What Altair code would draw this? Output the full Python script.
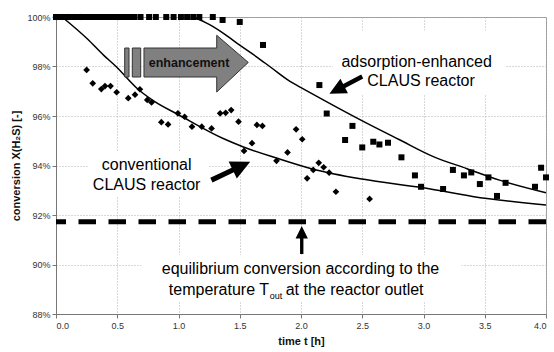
import altair as alt
import pandas as pd

# ---------------- data ----------------
# conventional CLAUS reactor (diamonds)
conv_t = [0.0, 0.05, 0.10, 0.15, 0.20, 0.25, 0.30, 0.37, 0.40, 0.445,
          0.495, 0.59, 0.645, 0.685, 0.745, 0.78, 0.86, 0.915, 0.995, 1.05,
          1.11, 1.19, 1.27, 1.34, 1.385, 1.43, 1.49, 1.535, 1.60, 1.64,
          1.685, 1.80, 1.89, 1.96, 2.01, 2.05, 2.10, 2.145, 2.185, 2.23,
          2.285, 2.56]
conv_v = [100, 100, 100, 100, 100, 97.86, 97.32, 97.09, 97.21, 97.21,
          96.96, 96.72, 96.86, 97.08, 96.65, 96.55, 95.75, 95.66, 96.11, 95.97,
          95.57, 95.57, 95.50, 96.11, 96.13, 96.24, 95.77, 94.59, 94.90, 95.64,
          95.60, 94.19, 94.53, 95.46, 95.06, 93.48, 93.82, 94.11, 93.93, 93.71,
          92.94, 92.65]

# adsorption-enhanced CLAUS reactor (squares)
ads_t = [0.0, 0.04, 0.08, 0.12, 0.16, 0.20, 0.24, 0.28, 0.32, 0.36,
         0.40, 0.44, 0.48, 0.52, 0.56, 0.60, 0.64, 0.69, 0.76, 0.815,
         0.90, 0.96, 1.02, 1.07, 1.12, 1.17, 1.28, 1.36, 1.50, 1.69,
         2.15, 2.21, 2.36, 2.42, 2.50, 2.59, 2.64, 2.71, 2.82, 2.93,
         2.98, 3.16, 3.24, 3.33, 3.39, 3.46, 3.53, 3.60, 3.67, 3.91,
         3.96, 4.00]
ads_v = [100, 100, 100, 100, 100, 100, 100, 100, 100, 100,
         100, 100, 100, 100, 100, 100, 100, 100, 100, 100,
         100, 100, 100, 100, 100, 100, 100, 99.88, 99.80, 98.87,
         97.25, 96.10, 95.03, 95.60, 94.73, 94.96, 94.85, 94.92, 94.33, 93.60,
         93.14, 93.05, 93.82, 93.60, 93.72, 93.25, 93.52, 92.77, 93.30, 93.14,
         93.91, 93.52]

# model curves
conv_curve_t = [0.05, 0.255, 0.39, 0.49, 0.665, 0.8, 1.0, 1.36, 1.53, 1.8, 2.1, 2.5, 3.0, 3.4, 4.0]
conv_curve_v = [100, 99.12, 98.45, 98.0, 97.1, 96.6, 96.05, 95.1, 94.75, 94.3, 93.85, 93.45, 93.1, 92.75, 92.4]
ads_curve_t = [1.12, 1.25, 1.37, 1.5, 1.64, 1.75, 1.91, 2.0, 2.2, 2.54, 2.8, 3.08, 3.35, 3.62, 4.0]
ads_curve_v = [100, 99.7, 99.33, 98.86, 98.38, 97.98, 97.4, 97.15, 96.6, 95.7, 95.05, 94.36, 93.88, 93.41, 92.9]

equilibrium_v = [91.73]

x_ticks = [0.0, 0.5, 1.0, 1.5, 2.0, 2.5, 3.0, 3.5, 4.0]
y_ticks = [88, 90, 92, 94, 96, 98, 100]

# annotation texts
center_texts = ["adsorption-enhanced", "CLAUS reactor", "conventional", "CLAUS reactor",
                "equilibrium conversion according to the"]
center_t = [2.944, 2.98, 0.74, 0.74, 1.996]
center_v = [98.19, 97.41, 94.02, 93.21, 89.82]

# white boxes behind the annotation texts
box_t0 = [2.26, 0.26, 0.70]
box_t1 = [3.665, 1.24, 3.31]
box_v0 = [96.85, 92.77, 88.48]
box_v1 = [99.45, 94.55, 90.38]

# black arrows
arrow_t = [2.366, 1.427, 2.006]
arrow_v = [97.25, 93.78, 90.99]
arrow_angle = [152.4, 334.5, 270]
arrow_len = [37, 43, 28]

FONT = "Liberation Sans"
ARROW = "M-1,-0.12L0.1,-0.12L0.1,-0.44L1,0L0.1,0.44L0.1,0.12L-1,0.12Z"
ENH = ("M-1,-0.253L-0.93,-0.253L-0.93,0.216L-1,0.216Z "
       "M-0.877,-0.253L-0.741,-0.253L-0.741,0.216L-0.877,0.216Z "
       "M-0.688,-0.253L0.489,-0.253L0.489,-0.459L1,-0.02L0.489,0.459L0.489,0.216L-0.688,0.216Z")


def X(field):
    return alt.X(f"{field}:Q",
                 scale=alt.Scale(domain=[0, 4], nice=False, zero=False),
                 axis=alt.Axis(values=x_ticks, format=".1f", title="time t [h]",
                               labelPadding=3, titlePadding=5))


def Y(field):
    return alt.Y(f"{field}:Q",
                 scale=alt.Scale(domain=[88, 100], nice=False, zero=False),
                 axis=alt.Axis(values=y_ticks, labelExpr="datum.value + '%'",
                               title="conversion X(H₂S) [-]", labelPadding=2, titlePadding=5))


boxes = alt.Chart(pd.DataFrame({"t0": box_t0, "t1": box_t1, "v0": box_v0, "v1": box_v1})).mark_rect(
    color="white", opacity=1).encode(x=X("t0"), x2="t1", y=Y("v0"), y2="v1")

eq_line = alt.Chart(pd.DataFrame({"v": equilibrium_v})).mark_rule(
    color="black", strokeWidth=5, strokeDash=[17.5, 12.5], strokeCap="butt").encode(y=Y("v"))

conv_curve = alt.Chart(pd.DataFrame({"t": conv_curve_t, "v": conv_curve_v})).mark_line(
    color="black", strokeWidth=1.5, interpolate="monotone").encode(x=X("t"), y=Y("v"))
ads_curve = alt.Chart(pd.DataFrame({"t": ads_curve_t, "v": ads_curve_v})).mark_line(
    color="black", strokeWidth=1.5, interpolate="monotone").encode(x=X("t"), y=Y("v"))

conv_pts = alt.Chart(pd.DataFrame({"t": conv_t, "v": conv_v})).mark_point(
    shape="diamond", filled=True, color="black", size=45, opacity=1).encode(x=X("t"), y=Y("v"))
ads_pts = alt.Chart(pd.DataFrame({"t": ads_t, "v": ads_v})).mark_point(
    shape="square", filled=True, color="black", size=36, opacity=1).encode(x=X("t"), y=Y("v"))

enh_arrow = alt.Chart(pd.DataFrame({"t": [1.0653], "v": [98.115]})).mark_point(
    shape=ENH, size=15277, filled=True, fill="#808080", stroke="#333333", strokeWidth=1,
    opacity=1).encode(x=X("t"), y=Y("v"))
enh_text = alt.Chart(pd.DataFrame({"t": [1.086], "v": [98.14], "s": ["enhancement"]})).mark_text(
    font=FONT, fontSize=12.5, fontWeight="bold", color="#111111", align="center",
    baseline="middle").encode(x=X("t"), y=Y("v"), text="s:N")

ctext = alt.Chart(pd.DataFrame({"t": center_t, "v": center_v, "s": center_texts})).mark_text(
    font=FONT, fontSize=16, color="black", align="center", baseline="middle").encode(
    x=X("t"), y=Y("v"), text="s:N")
ttext_r = alt.Chart(pd.DataFrame({"t": [1.739], "v": [88.97], "s": ["temperature T"]})).mark_text(
    font=FONT, fontSize=16, color="black", align="right", baseline="middle").encode(
    x=X("t"), y=Y("v"), text="s:N")
ttext_sub = alt.Chart(pd.DataFrame({"t": [1.745], "v": [88.74], "s": ["out"]})).mark_text(
    font=FONT, fontSize=9, color="black", align="left", baseline="middle").encode(
    x=X("t"), y=Y("v"), text="s:N")
ttext_l = alt.Chart(pd.DataFrame({"t": [1.875], "v": [88.97], "s": ["at the reactor outlet"]})).mark_text(
    font=FONT, fontSize=16, color="black", align="left", baseline="middle").encode(
    x=X("t"), y=Y("v"), text="s:N")

arrows = alt.Chart(pd.DataFrame({"t": arrow_t, "v": arrow_v, "ang": arrow_angle,
                                 "sz": [l * l for l in arrow_len], "p": [ARROW] * 3})).mark_point(
    filled=True, color="black", opacity=1).encode(
    x=X("t"), y=Y("v"),
    angle=alt.Angle("ang:Q", scale=None),
    size=alt.Size("sz:Q", scale=None),
    shape=alt.Shape("p:N", scale=None))

chart = alt.layer(
    boxes, eq_line, conv_curve, ads_curve, conv_pts, ads_pts,
    enh_arrow, enh_text, ctext, ttext_r, ttext_sub, ttext_l, arrows
).properties(
    width=490, height=297,
    autosize=alt.AutoSizeParams(type="none"),
    padding={"left": 56, "top": 17, "right": 8, "bottom": 38},
    background="white",
).configure_view(
    stroke="#999999", strokeWidth=1
).configure_axis(
    labelFont=FONT, titleFont=FONT, labelFontSize=9, labelColor="#333333",
    titleFontSize=11, titleFontWeight="bold", titleColor="#111111",
    gridColor="#b0b0b0", gridDash=[1, 2], gridWidth=1,
    domainColor="#777777", tickColor="#777777", tickSize=4
)

chart.save("out.html", embed_options={"renderer": "svg", "actions": False})
